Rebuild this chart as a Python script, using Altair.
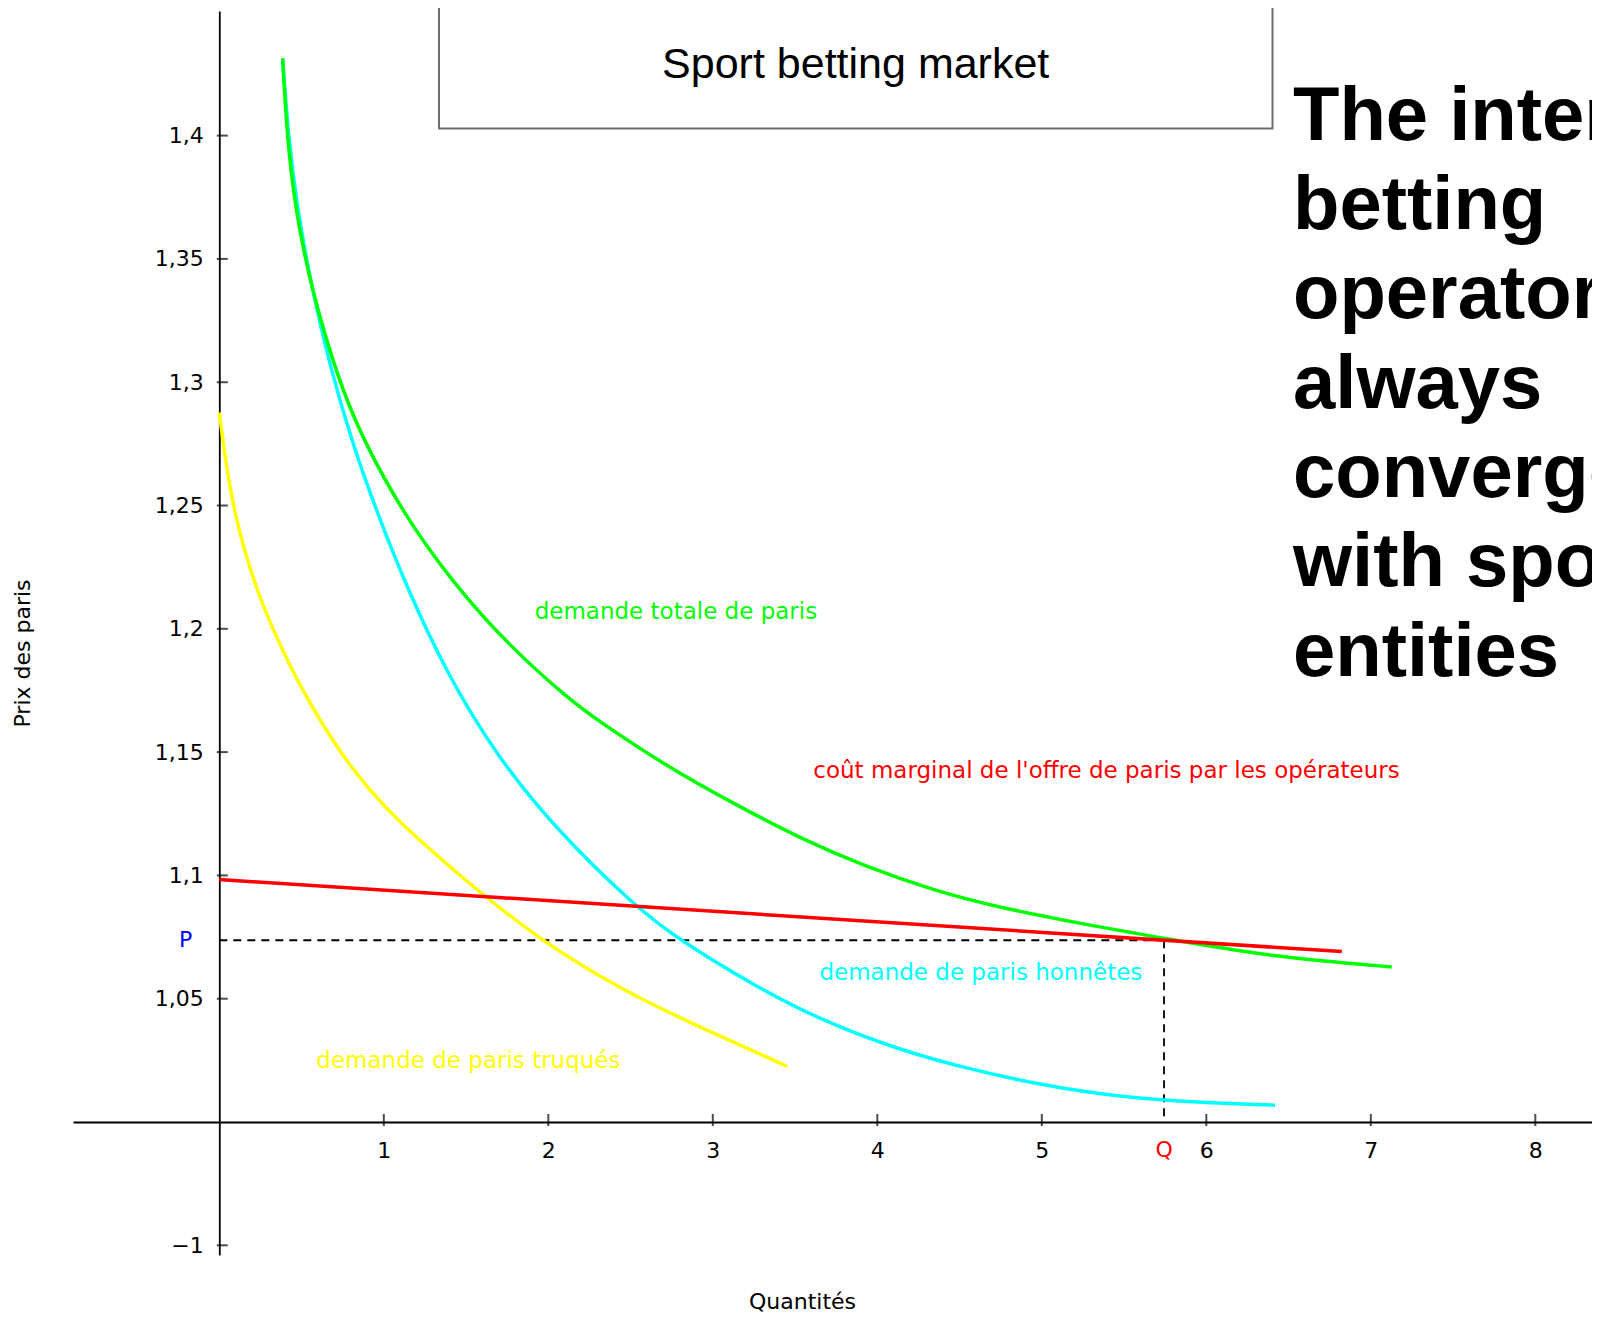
import altair as alt
import pandas as pd

# ---------------- data ----------------
green_x = [0.385, 0.410, 0.460, 0.551, 0.723, 0.875, 1.118, 1.422, 1.767, 2.132, 2.314,
           2.740, 3.125, 3.530, 3.936, 4.340, 4.746, 5.354, 5.749, 6.164, 6.570, 7.127]
green_y = [1.4313, 1.4009, 1.3711, 1.3400, 1.3008, 1.2765, 1.2468, 1.2184, 1.1927, 1.1711, 1.1622,
           1.1434, 1.1292, 1.1150, 1.1034, 1.0940, 1.0868, 1.0790, 1.0744, 1.0697, 1.0660, 1.0629]

cyan_x = [0.385, 0.418, 0.472, 0.557, 0.673, 0.815, 0.977, 1.139, 1.382, 1.686, 2.041,
          2.531, 2.799, 3.265, 3.657, 4.138, 4.543, 4.948, 5.354, 5.739, 6.418]
cyan_y = [1.4313, 1.4009, 1.3711, 1.3400, 1.3062, 1.2738, 1.2440, 1.2170, 1.1819, 1.1485, 1.1190,
          1.0872, 1.0737, 1.0548, 1.0413, 1.0291, 1.0217, 1.0157, 1.0112, 1.0086, 1.0068]

yellow_x = [0.0, 0.029, 0.085, 0.207, 0.328, 0.430, 0.511, 0.714, 0.916, 1.088, 1.402, 1.588,
            1.961, 2.450, 2.916, 3.451]
yellow_y = [1.2877, 1.2725, 1.2481, 1.2190, 1.1994, 1.1850, 1.1745, 1.1516, 1.1342, 1.1220, 1.1034,
            1.0930, 1.0733, 1.0534, 1.0386, 1.0226]

red_x = [0.0, 6.824]
red_y = [1.0983, 1.0691]

P_LEVEL = 1.0737   # equilibrium price
Q_LEVEL = 5.743    # equilibrium quantity
AXIS_Y = 1.0       # where the quantity axis crosses the price axis
AXIS_X = 0.0       # where the price axis crosses the quantity axis

x_tick_values = [1, 2, 3, 4, 5, 6, 7, 8]
y_tick_values = [0.95, 1.05, 1.1, 1.15, 1.2, 1.25, 1.3, 1.35, 1.4]
y_tick_labels = ["\u22121", "1,05", "1,1", "1,15", "1,2", "1,25", "1,3", "1,35", "1,4"]

series_names = ["demande de paris truqués", "demande de paris honnêtes",
                "demande totale de paris",
                "coût marginal de l'offre de paris par les opérateurs"]
series_colors = ["#ffff00", "#00ffff", "#00ff00", "#ff0000"]
label_x = [0.590, 3.648, 1.917, 3.611]
label_y = [1.0246, 1.0606, 1.2067, 1.1425]

title_text = "Sport betting market"
side_lines = ["The interest of", "betting", "operators", "always",
              "converge", "with sport", "entities"]

# ---------------- layout ----------------
X_MIN, X_MAX = -0.8894, 8.3446
Y_MIN, Y_MAX = 0.94607, 1.45053
PLOT_W, PLOT_H = 1519, 1244
FONT = "DejaVu Sans"

rows = []
for name, xs_, ys_ in zip(series_names,
                          [yellow_x, cyan_x, green_x, red_x],
                          [yellow_y, cyan_y, green_y, red_y]):
    for a, b in zip(xs_, ys_):
        rows.append({"x": a, "y": b, "series": name})
curves = pd.DataFrame(rows)

xscale = alt.Scale(domain=[X_MIN, X_MAX], nice=False, zero=False)
yscale = alt.Scale(domain=[Y_MIN, Y_MAX], nice=False, zero=False)

label_expr = "".join(
    f"abs(datum.value - {v}) < 0.000001 ? '{lab}' : " for v, lab in zip(y_tick_values, y_tick_labels)
) + "''"

x_axis = alt.Axis(values=x_tick_values, ticks=False, tickSize=0, grid=False,
                  domainColor="black", domainWidth=1.8,
                  labelFont=FONT, labelFontSize=22, labelColor="black",
                  labelPadding=28, labelBaseline="middle", labelFlush=False,
                  labelOverlap=False, offset=-133,
                  title="Quantités", titleFont=FONT, titleFontSize=22,
                  titleFontWeight="normal", titleColor="black",
                  titleX=729, titleY=191, titleAlign="center", titleBaseline="bottom")
y_axis = alt.Axis(values=y_tick_values, labelExpr=label_expr, ticks=False, tickSize=0,
                  grid=False, domainColor="black", domainWidth=1.8,
                  labelFont=FONT, labelFontSize=22, labelColor="black",
                  labelPadding=16, labelOverlap=False, labelFlush=False, offset=-146.3,
                  title="Prix des paris", titleFont=FONT, titleFontSize=22,
                  titleFontWeight="normal", titleColor="black",
                  titleX=-196.8, titleY=642, titleAngle=270,
                  titleAlign="center", titleBaseline="middle")


def X(field="x"):
    return alt.X(field, type="quantitative", scale=xscale, axis=x_axis)


def Y(field="y"):
    return alt.Y(field, type="quantitative", scale=yscale, axis=y_axis)


color_scale = alt.Scale(domain=series_names, range=series_colors)

# title box
box = alt.Chart(pd.DataFrame({"t": [title_text]})).mark_rect(
    fill="white", stroke="#6e6e6e", strokeWidth=2
).encode(x=alt.value(366), x2=alt.value(1199.5), y=alt.value(-30), y2=alt.value(117.6))
box_text = alt.Chart(pd.DataFrame({"t": [title_text]})).mark_text(
    font="Liberation Sans", fontSize=43, align="center", baseline="middle", color="black"
).encode(x=alt.value(782.7), y=alt.value(54), text="t:N")

side_text = alt.Chart(pd.DataFrame({"k": [0]})).mark_text(
    font="Liberation Sans", fontWeight="bold", fontSize=76, align="left",
    baseline="alphabetic", lineHeight=89.3, color="black", text=side_lines
).encode(x=alt.value(1220), y=alt.value(128.8))

# dashed guides
guides = pd.DataFrame({"x": [AXIS_X, Q_LEVEL], "x2": [Q_LEVEL, Q_LEVEL],
                       "y": [P_LEVEL, P_LEVEL], "y2": [P_LEVEL, AXIS_Y]})
dashed = alt.Chart(guides).mark_rule(color="black", strokeWidth=1.8, strokeDash=[8, 6]).encode(
    x=X(), x2="x2", y=Y(), y2="y2")

lines = alt.Chart(curves).mark_line(strokeWidth=3.5, interpolate="basis").encode(
    x=X(), y=Y(),
    color=alt.Color("series:N", scale=color_scale, legend=None),
    order=alt.Order("x:Q"))

# axis ticks (drawn on the inner side of the axes)
yt = pd.DataFrame({"x": [AXIS_X] * len(y_tick_values), "y": y_tick_values})
xt = pd.DataFrame({"x": x_tick_values, "y": [AXIS_Y] * len(x_tick_values)})
y_ticks = alt.Chart(yt).mark_tick(orient="horizontal", size=11, thickness=2,
                                  xOffset=3, color="black").encode(x=X(), y=Y())
x_ticks = alt.Chart(xt).mark_tick(orient="vertical", size=12, thickness=2,
                                  yOffset=-2, color="black").encode(x=X(), y=Y())

labels_df = pd.DataFrame({"x": label_x, "y": label_y, "text": series_names,
                          "series": series_names})
curve_labels = alt.Chart(labels_df).mark_text(
    font=FONT, fontSize=23, align="left", baseline="middle"
).encode(x=X(), y=Y(), text="text:N",
         color=alt.Color("series:N", scale=color_scale, legend=None))

p_label = alt.Chart(pd.DataFrame({"x": [AXIS_X], "y": [P_LEVEL], "t": ["P"]})).mark_text(
    font=FONT, fontSize=22, align="center", baseline="middle", color="#0000ff", dx=-33.6
).encode(x=X(), y=Y(), text="t:N")
q_label = alt.Chart(pd.DataFrame({"x": [Q_LEVEL], "y": [AXIS_Y], "t": ["Q"]})).mark_text(
    font=FONT, fontSize=22, align="center", baseline="middle", color="#ff0000", dy=28
).encode(x=X(), y=Y(), text="t:N")

chart = alt.layer(
    dashed, lines, y_ticks, x_ticks, curve_labels, p_label, q_label,
    box, box_text, side_text
).properties(
    width=PLOT_W, height=PLOT_H,
    autosize=alt.AutoSizeParams(type="none"),
    padding={"left": 65, "top": 3, "right": 0, "bottom": 57},
    background="white",
).configure_view(stroke=None)

chart.save("out.html", embed_options={"renderer": "svg", "actions": False})
